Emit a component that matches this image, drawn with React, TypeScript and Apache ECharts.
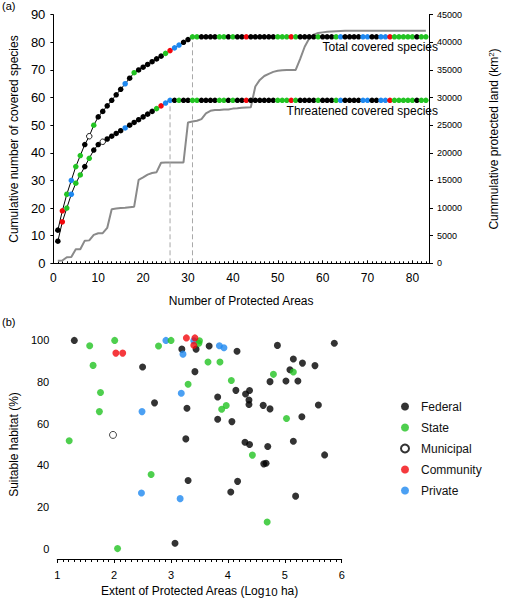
import React, { useEffect, useRef } from 'react';
import * as echarts from 'echarts';

const FONT = '"Liberation Sans", Arial, Helvetica, sans-serif';

// ---------- Panel (a) data ----------
const totalSpecies = [
  12, 19, 25, 30, 35, 39, 43, 46, 50, 53,
  55, 57, 59, 61, 63, 65, 67, 69, 70, 71,
  72, 73, 74, 75, 76, 77, 78, 79, 80, 81,
  82, 82, 82, 82, 82, 82, 82, 82, 82, 82,
  82, 82, 82, 82, 82, 82, 82, 82, 82, 82,
  82, 82, 82, 82, 82, 82, 82, 82, 82, 82,
  82, 82, 82, 82, 82, 82, 82, 82, 82, 82,
  82, 82, 82, 82, 82, 82, 82, 82, 82, 82,
  82, 82, 82,
];
const threatenedSpecies = [
  8, 15, 20, 25, 29, 32, 35, 38, 41, 43,
  44, 45, 46, 47, 48, 49, 50, 51, 52, 53,
  54, 55, 56, 57, 58, 59, 59, 59, 59, 59,
  59, 59, 59, 59, 59, 59, 59, 59, 59, 59,
  59, 59, 59, 59, 59, 59, 59, 59, 59, 59,
  59, 59, 59, 59, 59, 59, 59, 59, 59, 59,
  59, 59, 59, 59, 59, 59, 59, 59, 59, 59,
  59, 59, 59, 59, 59, 59, 59, 59, 59, 59,
  59, 59, 59,
];
const protectedLand = [
  480, 500, 1100, 1150, 2530, 2550, 4100, 4150, 5150, 5450,
  5450, 6400, 9800, 9900, 10000, 10050, 10150, 10250, 15100, 15550,
  16050, 16350, 16500, 18200, 18250, 18250, 18250, 18250, 18250, 25500,
  25650, 25800, 26100, 27150, 27600, 27750, 27750, 27850, 27850, 28000,
  28050, 28150, 28200, 28250, 32000, 33200, 33900, 34300, 34650, 34850,
  34950, 35000, 35000, 35000, 37000, 39200, 40700, 41400, 41700, 41800,
  41900, 41950, 42000, 42050, 42100, 42100, 42100, 42100, 42100, 42100,
  42100, 42100, 42100, 42100, 42100, 42100, 42100, 42100, 42100, 42100,
  42100, 42100, 42100,
];
// F = Federal, S = State, M = Municipal, C = Community, P = Private
const totalOwner = (
  'FCSPSSFMSF' + 'FFFFFPFSFF' + 'FFFFSCPPFF' + 'SSFFFFSSFS' + 'FFCFFFFFFS' +
  'SSCSFFFFSF' + 'FFSPFFFFPP' + 'FFPPCSSSSS' + 'FSS'
).split('');
const threatenedOwner = (
  'FCSPSSFSFF' + 'MFFFFPFFFF' + 'FFSCPPFSFF' + 'SSFFFFSSFS' + 'FFCFFFFFFS' +
  'SSCSFFFFSF' + 'FFSPFFFFPP' + 'FFPPCSSSSS' + 'FSS'
).split('');

// ---------- Panel (b) data: [log10 ha, suitable habitat %] ----------
const federalPts = [
  [1.30, 100], [2.50, 87.2], [2.71, 70], [3.19, 95.8], [3.28, 67.4], [3.26, 52.7],
  [3.30, 32.7], [3.07, 2.6], [3.42, 85], [3.44, 95.8], [3.67, 97.3], [3.82, 62.1],
  [3.82, 72.8], [4.07, 61], [4.14, 76], [4.16, 94.8], [4.05, 27.2], [4.17, 32.3],
  [4.31, 74.3], [4.38, 75.9], [4.37, 71.4], [4.37, 69.2], [4.30, 51.1], [4.38, 50],
  [4.62, 68.8], [4.63, 40.7], [4.67, 41], [4.70, 49], [4.74, 67.1], [4.74, 80.2],
  [4.87, 97.6], [5.02, 80.5], [5.09, 85.9], [5.15, 91.1], [5.31, 89.1], [5.23, 80.5],
  [5.15, 51.6], [5.19, 25.2], [5.30, 63.3], [5.53, 87.9], [5.59, 69], [5.70, 45],
  [5.87, 98.6],
];
const statePts = [
  [1.21, 51.8], [1.57, 97.4], [1.63, 88], [1.76, 75], [1.74, 65.8], [2.01, 100],
  [2.06, 0], [2.65, 35.6], [2.78, 97.3], [3.0, 100], [3.30, 78.9], [3.50, 99.8],
  [3.49, 98.6], [3.65, 89.6], [3.86, 89.6], [4.06, 80.7], [3.89, 66.9], [3.97, 68.7],
  [4.43, 44.9], [4.80, 83.7], [4.69, 12.8], [5.03, 62.5], [5.15, 84.8],
];
const municipalPts = [[1.98, 54.6]];
const communityPts = [[2.03, 93.9], [2.15, 93.9], [3.27, 101.2], [3.42, 101.2], [3.40, 97.7]];
const privatePts = [
  [2.91, 100], [3.21, 93.4], [3.18, 74.6], [2.49, 65.8], [2.48, 26.7], [3.16, 24],
  [3.85, 97.4], [3.93, 96.5], [3.40, 99.8],
];

const ownerNames = ['Federal', 'State', 'Municipal', 'Community', 'Private'];
const yTicksB = [0, 20, 40, 60, 80, 100];

const COLORS: Record<string, string> = {
  F: '#000000',
  S: '#22c322',
  M: '#ffffff',
  C: '#f2070c',
  P: '#1e88f0',
};

function dotStyle(code: string) {
  if (code === 'M') return { color: '#ffffff', borderColor: '#000000', borderWidth: 0.9 };
  return { color: COLORS[code], borderWidth: 0 };
}

export default function App() {
  const ref = useRef<HTMLDivElement>(null);

  useEffect(() => {
    document.body.style.margin = '0';
    if (!ref.current) return;
    const chart = echarts.init(ref.current, undefined, { renderer: 'svg' });

    const tPlateau = threatenedSpecies.indexOf(Math.max(...threatenedSpecies)) + 1;
    const aPlateau = totalSpecies.indexOf(Math.max(...totalSpecies)) + 1;

    const blackAxis = { color: '#000', width: 1 };
    const tickLabel = { color: '#000', fontFamily: FONT };

    const option: any = {
      animation: false,
      textStyle: { fontFamily: FONT },
      grid: [
        { left: 39.5, right: 60.7, top: 14.7, height: 248.6 },
        { left: 50, width: 291.7, top: 330, height: 230 },
      ],
      legend: {
        data: ownerNames,
        orient: 'vertical',
        left: 395,
        top: 394.5,
        icon: 'circle',
        itemWidth: 8,
        itemHeight: 8,
        itemGap: 7,
        selectedMode: false,
        textStyle: { fontSize: 12, color: '#111', fontFamily: FONT, lineHeight: 14, padding: [0, 0, 0, 7] },
      },
      xAxis: [
        {
          gridIndex: 0,
          type: 'value',
          min: 0,
          max: 83.7,
          interval: 10,
          name: 'Number of Protected Areas',
          nameLocation: 'middle',
          nameGap: 32,
          nameTextStyle: { fontSize: 12, color: '#000', fontFamily: FONT },
          axisLine: { show: true, onZero: false, lineStyle: blackAxis },
          axisTick: { show: true, inside: true, length: 3, lineStyle: blackAxis },
          minorTick: { show: true, splitNumber: 10, length: 2, lineStyle: blackAxis },
          splitLine: { show: false },
          axisLabel: { ...tickLabel, fontSize: 12, margin: 9, showMaxLabel: false },
        },
        {
          gridIndex: 1,
          type: 'value',
          min: 1,
          max: 6,
          interval: 1,
          name: 'Extent of Protected Areas (Log{sub|10} ha)',
          nameLocation: 'middle',
          nameGap: 25,
          nameTextStyle: {
            fontSize: 12,
            color: '#000',
            fontFamily: FONT,
            lineHeight: 14,
            rich: { sub: { fontSize: 11.5, lineHeight: 2, verticalAlign: 'bottom', fontFamily: FONT, color: '#000' } },
          },
          axisLine: { show: true, onZero: false, lineStyle: blackAxis },
          axisTick: { show: true, length: 4, lineStyle: blackAxis },
          minorTick: { show: true, splitNumber: 10, length: 3, lineStyle: blackAxis },
          splitLine: { show: false },
          axisLabel: { ...tickLabel, fontSize: 11, margin: 10 },
        },
      ],
      yAxis: [
        {
          gridIndex: 0,
          type: 'value',
          min: 0,
          max: 90,
          interval: 10,
          position: 'left',
          name: 'Cumulative number of covered species',
          nameLocation: 'middle',
          nameGap: 25,
          nameTextStyle: { fontSize: 12, color: '#000', fontFamily: FONT },
          axisLine: { show: true, onZero: false, lineStyle: blackAxis },
          axisTick: { show: true, length: 3, lineStyle: blackAxis },
          splitLine: { show: false },
          axisLabel: { ...tickLabel, fontSize: 13, margin: 8 },
        },
        {
          gridIndex: 0,
          type: 'value',
          min: 0,
          max: 45000,
          interval: 5000,
          position: 'right',
          name: 'Cummulative protected land (km{sup|2})',
          nameLocation: 'middle',
          nameRotate: 90,
          nameGap: 58,
          nameTextStyle: {
            fontSize: 12,
            color: '#000',
            fontFamily: FONT,
            lineHeight: 14,
            rich: { sup: { fontSize: 8, lineHeight: 6, verticalAlign: 'top', fontFamily: FONT, color: '#000' } },
          },
          axisLine: { show: true, onZero: false, lineStyle: blackAxis },
          axisTick: { show: true, length: 4, lineStyle: blackAxis },
          splitLine: { show: false },
          axisLabel: { ...tickLabel, fontSize: 9, margin: 8, formatter: (v: number) => String(v) },
        },
        {
          gridIndex: 1,
          type: 'value',
          min: -5,
          max: 105,
          name: 'Suitable habitat (%)',
          nameLocation: 'middle',
          nameGap: 29,
          nameTextStyle: { fontSize: 12, color: '#000', fontFamily: FONT },
          axisLine: { show: false },
          axisTick: { show: false },
          splitLine: { show: false },
          axisLabel: { ...tickLabel, fontSize: 11, margin: 8, customValues: yTicksB },
        },
      ],
      graphic: [
        { type: 'text', left: 2, top: 0, style: { text: '(a)', fontSize: 11, fontFamily: FONT, fill: '#000' } },
        { type: 'text', left: 2, top: 316, style: { text: '(b)', fontSize: 11, fontFamily: FONT, fill: '#000' } },
        {
          type: 'text',
          right: 71,
          top: 41,
          style: { text: 'Total covered species', fontSize: 12, fontFamily: FONT, fill: '#000' },
        },
        {
          type: 'text',
          right: 71,
          top: 105,
          style: { text: 'Threatened covered species', fontSize: 12, fontFamily: FONT, fill: '#000' },
        },
      ],
      series: [
        {
          type: 'line',
          xAxisIndex: 0,
          yAxisIndex: 1,
          data: protectedLand.map((v, i) => [i + 1, v]),
          symbol: 'none',
          lineStyle: { color: '#8a8a8a', width: 2 },
          silent: true,
          z: 1,
        },
        {
          type: 'line',
          xAxisIndex: 0,
          yAxisIndex: 0,
          data: [[tPlateau, 0], [tPlateau, threatenedSpecies[tPlateau - 1]]],
          symbol: 'none',
          lineStyle: { color: '#a8a8a8', width: 1, type: [5, 3] },
          silent: true,
          z: 1,
        },
        {
          type: 'line',
          xAxisIndex: 0,
          yAxisIndex: 0,
          data: [[aPlateau, 0], [aPlateau, totalSpecies[aPlateau - 1]]],
          symbol: 'none',
          lineStyle: { color: '#a8a8a8', width: 1, type: [5, 3] },
          silent: true,
          z: 1,
        },
        {
          type: 'line',
          xAxisIndex: 0,
          yAxisIndex: 0,
          data: totalSpecies.map((v, i) => ({ value: [i + 1, v], itemStyle: dotStyle(totalOwner[i]) })),
          symbol: 'circle',
          symbolSize: 5.5,
          showAllSymbol: true,
          lineStyle: { color: '#000', width: 1 },
          itemStyle: { color: '#000' },
          silent: true,
          z: 3,
        },
        {
          type: 'line',
          xAxisIndex: 0,
          yAxisIndex: 0,
          data: threatenedSpecies.map((v, i) => ({ value: [i + 1, v], itemStyle: dotStyle(threatenedOwner[i]) })),
          symbol: 'circle',
          symbolSize: 5.5,
          showAllSymbol: true,
          lineStyle: { color: '#000', width: 1 },
          itemStyle: { color: '#000' },
          silent: true,
          z: 3,
        },
        {
          name: 'Federal',
          type: 'scatter',
          xAxisIndex: 1,
          yAxisIndex: 2,
          data: federalPts,
          symbolSize: 7,
          itemStyle: dotStyle('F'),
        },
        {
          name: 'Municipal',
          type: 'scatter',
          xAxisIndex: 1,
          yAxisIndex: 2,
          data: municipalPts,
          symbolSize: 7,
          itemStyle: dotStyle('M'),
        },
        {
          name: 'Private',
          type: 'scatter',
          xAxisIndex: 1,
          yAxisIndex: 2,
          data: privatePts,
          symbolSize: 7,
          itemStyle: dotStyle('P'),
        },
        {
          name: 'State',
          type: 'scatter',
          xAxisIndex: 1,
          yAxisIndex: 2,
          data: statePts,
          symbolSize: 7,
          itemStyle: dotStyle('S'),
        },
        {
          name: 'Community',
          type: 'scatter',
          xAxisIndex: 1,
          yAxisIndex: 2,
          data: communityPts,
          symbolSize: 7,
          itemStyle: dotStyle('C'),
        },
      ],
    };

    chart.setOption(option);
    return () => chart.dispose();
  }, []);

  return <div ref={ref} style={{ width: 509, height: 599 }} />;
}
